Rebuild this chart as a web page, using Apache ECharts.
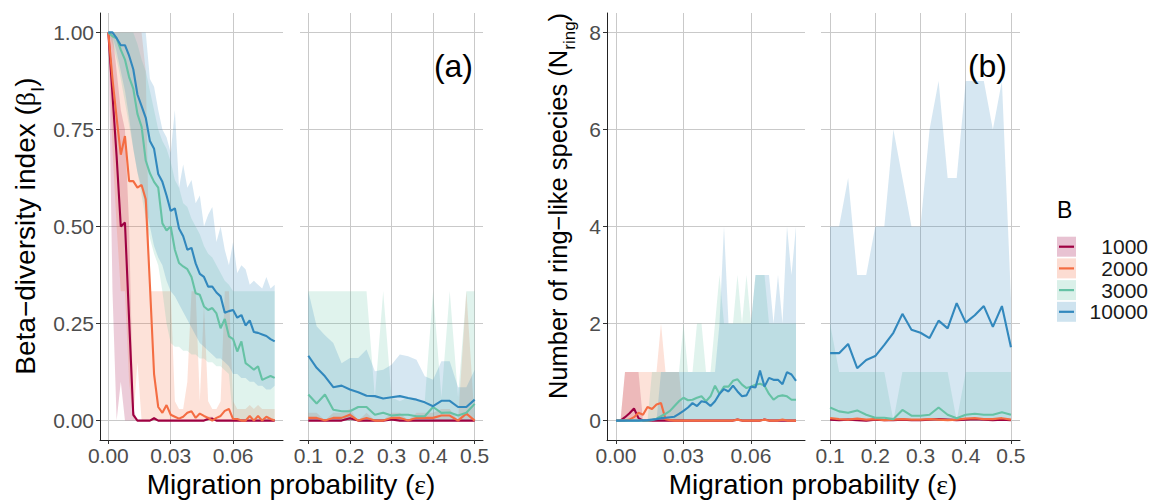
<!DOCTYPE html>
<html><head><meta charset="utf-8">
<script src="https://cdn.jsdelivr.net/npm/echarts@6/dist/echarts.min.js"></script>
<style>html,body{margin:0;padding:0;background:#fff}#c{width:1161px;height:503px}</style>
</head><body><div id="c"></div>
<script>
// ---------- categories / ticks ----------
const groups = ['1000', '2000', '3000', '10000'];
const colors = ['#9E0142', '#F46D43', '#66C2A5', '#3288BD'];
const epsLow = [0,0.002,0.004,0.006,0.008,0.01,0.012,0.014,0.016,0.018,0.02,0.022,0.024,0.026,0.028,0.03,0.032,0.034,0.036,0.038,0.04,0.042,0.044,0.046,0.048,0.05,0.052,0.054,0.056,0.058,0.06,0.062,0.064,0.066,0.068,0.07,0.072,0.074,0.076,0.078,0.08];
const epsHigh = [0.1,0.12,0.14,0.16,0.18,0.2,0.22,0.24,0.26,0.28,0.3,0.32,0.34,0.36,0.38,0.4,0.42,0.44,0.46,0.48,0.5];
const tickEpsLow = [0, 0.03, 0.06];
const tickEpsHigh = [0.1, 0.2, 0.3, 0.4, 0.5];
const tickBeta = [0, 0.25, 0.5, 0.75, 1];
const tickRing = [0, 2, 4, 6, 8];

// ---------- (a) beta diversity, low epsilon ----------
const betaL_1000 = [1.00,0.84,0.68,0.50,0.51,0.26,0.015,0,0,0, 0,0.006,0,0,0,0,0,0,0,0, 0,0,0,0,0.004,0.005,0,0,0,0, 0,0,0,0,0,0,0,0,0,0, 0];
const betaL_2000 = [1.00,0.88,0.78,0.685,0.733,0.617,0.617,0.60,0.607,0.57, 0.35,0.12,0.035,0.02,0.04,0.015,0.01,0.005,0.01,0.02, 0.024,0.007,0.018,0.012,0.007,0,0.007,0.012,0.025,0.03, 0.004,0.004,0,0,0.012,0,0.012,0,0.01,0.004, 0];
const betaL_3000 = [1.00,0.99,0.985,0.955,0.93,0.885,0.855,0.79,0.757,0.67, 0.637,0.615,0.60,0.508,0.49,0.50,0.44,0.406,0.397,0.39, 0.37,0.328,0.324,0.294,0.285,0.29,0.276,0.238,0.262,0.217, 0.21,0.178,0.204,0.148,0.14,0.131,0.14,0.105,0.11,0.115, 0.11];
const betaL_10000 = [1.00,1.00,0.985,0.967,0.967,0.94,0.905,0.84,0.81,0.78, 0.72,0.70,0.635,0.615,0.58,0.54,0.547,0.495,0.475,0.44, 0.445,0.405,0.378,0.37,0.345,0.345,0.33,0.32,0.278,0.282, 0.285,0.265,0.272,0.245,0.258,0.228,0.226,0.222,0.218,0.21, 0.204];
const betaL_1000_lo = [1.00,0.333,0,0.1,0,0,0,0,0,0, 0,0,0,0,0,0,0,0,0,0, 0,0,0,0,0,0,0,0,0,0, 0,0,0,0,0,0,0,0,0,0, 0];
const betaL_1000_hi = [1.00,1.00,0.9,0.8,0.75,0.5,0.03,0,0,0, 0,0.01,0,0,0,0,0,0,0,0, 0,0,0,0,0.01,0.01,0,0,0,0, 0,0,0,0,0,0,0,0,0,0, 0];
const betaL_2000_lo = [1.00,0.7,0.5,0.333,0.333,0.1,0,0.15,0,0, 0,0,0,0,0,0,0,0,0,0, 0,0,0,0,0,0,0,0,0,0, 0,0,0,0,0,0,0,0,0,0, 0];
const betaL_2000_hi = [1,1,1,1,1,1,1,1,1,0.9, 0.333,0.333,0.333,0.333,0.333,0.333,0.05,0.03,0.03,0.1, 0.333,0.333,0.05,0.3,0.05,0.03,0.03,0.05,0.333,0.333, 0.05,0.03,0.03,0.03,0.04,0.03,0.04,0.03,0.03,0.03, 0.03];
const betaL_3000_lo = [1.00,0.97,0.93,0.88,0.82,0.76,0.70,0.64,0.58,0.52, 0.47,0.43,0.40,0.333,0.25,0.2,0.19,0.19,0.18,0.18, 0.17,0.17,0.16,0.16,0.15,0.15,0.14,0.14,0.13,0.12, 0,0,0,0,0,0,0,0,0,0, 0];
const betaL_3000_hi = [1,1,1,1,1,1,1,0.97,0.93,0.9, 0.85,0.8,0.75,0.72,0.7,0.667,0.62,0.6,0.56,0.55, 0.52,0.5,0.48,0.45,0.43,0.42,0.4,0.38,0.36,0.35, 0.333,0.333,0.333,0.333,0.333,0.333,0.333,0.333,0.333,0.333, 0.333];
const betaL_10000_lo = [1.00,0.99,0.95,0.9,0.85,0.78,0.70,0.64,0.6,0.55, 0.5,0.45,0.42,0.4,0.36,0.333,0.32,0.3,0.28,0.26, 0.24,0.22,0.2,0.19,0.18,0.17,0.16,0.16,0.15,0.14, 0.12,0.12,0.11,0.11,0.1,0.1,0.09,0.09,0.08,0.08, 0.09];
const betaL_10000_hi = [1,1,1,1,1,1,1,1,1,1, 0.88,0.86,0.80,0.75,0.73,0.69,0.80,0.60,0.66,0.60, 0.62,0.56,0.58,0.50,0.53,0.55,0.46,0.50,0.44,0.40, 0.46,0.38,0.40,0.39,0.35,0.36,0.35,0.34,0.37,0.34, 0.35];

// ---------- (a) beta diversity, high epsilon ----------
const betaH_1000 = [0,0,0,0,0,0.006,0,0,0,0, 0.003,0,0,0,0,0,0,0,0,0, 0];
const betaH_2000 = [0.007,0.007,0,0.007,0.007,0.015,0,0.007,0,0, 0.007,0.007,0,0.007,0.007,0.007,0.013,0.013,0,0.018, 0];
const betaH_3000 = [0.067,0.044,0.067,0.028,0.024,0.024,0.035,0.035,0.015,0.02, 0.013,0.015,0.015,0.011,0.011,0.035,0.02,0.021,0.013,0.02, 0.043];
const betaH_10000 = [0.167,0.136,0.114,0.086,0.09,0.08,0.073,0.064,0.063,0.057, 0.06,0.063,0.058,0.054,0.047,0.037,0.051,0.051,0.035,0.035, 0.054];
const betaH_1000_lo = [0,0,0,0,0,0,0,0,0,0, 0,0,0,0,0,0,0,0,0,0, 0];
const betaH_1000_hi = [0,0,0,0,0,0.02,0,0,0,0, 0.01,0,0,0,0,0,0,0,0,0, 0];
const betaH_2000_lo = [0,0,0,0,0,0,0,0,0,0, 0,0,0,0,0,0,0,0,0,0, 0];
const betaH_2000_hi = [0.02,0.02,0,0.02,0.02,0.03,0,0.02,0,0, 0.02,0.02,0,0.02,0.02,0.02,0.03,0.03,0,0.333, 0];
const betaH_3000_lo = [0,0,0,0,0,0,0,0,0,0, 0,0,0,0,0,0,0,0,0,0, 0];
const betaH_3000_hi = [0.333,0.333,0.333,0.333,0.333,0.333,0.333,0.333,0.06,0.333, 0.06,0.05,0.06,0.05,0.05,0.333,0.06,0.333,0.06,0.333, 0.333];
const betaH_10000_lo = [0,0,0,0,0,0,0,0,0,0, 0,0,0,0,0,0,0,0,0,0, 0];
const betaH_10000_hi = [0.333,0.243,0.22,0.2,0.148,0.161,0.161,0.183,0.127,0.131, 0.144,0.17,0.166,0.157,0.114,0.105,0.153,0.153,0.086,0.086, 0.131];

// ---------- (b) ring-like species, low epsilon ----------
const ringL_1000 = [0,0,0.07,0.15,0.25,0.05,0,0,0,0, 0,0,0,0,0,0,0,0,0,0, 0,0,0,0,0,0,0,0.02,0,0, 0,0,0,0.02,0,0,0,0,0,0, 0];
const ringL_2000 = [0,0,0,0.02,0.07,0.16,0.12,0.28,0.24,0.33, 0.36,0.03,0.01,0,0,0,0,0,0,0, 0,0,0,0,0,0,0,0.02,0,0, 0,0,0,0.02,0,0,0,0.02,0,0, 0];
const ringL_3000 = [0,0,0,0,0,0,0,0,0.01,0.04, 0.09,0.14,0.2,0.3,0.4,0.47,0.42,0.43,0.47,0.5, 0.4,0.5,0.72,0.55,0.7,0.7,0.82,0.85,0.74,0.67, 0.7,0.74,0.76,0.72,0.55,0.43,0.5,0.52,0.5,0.43, 0.43];
const ringL_10000 = [0,0,0,0,0,0,0.005,0.01,0.02,0.03, 0.05,0.06,0.07,0.08,0.14,0.2,0.27,0.36,0.3,0.4, 0.38,0.3,0.4,0.55,0.65,0.6,0.72,0.6,0.5,0.52, 0.7,0.68,1.03,0.7,0.88,0.84,0.84,0.75,1.0,0.95, 0.82];
const ringL_1000_lo = [0,0,0,0,0,0,0,0,0,0, 0,0,0,0,0,0,0,0,0,0, 0,0,0,0,0,0,0,0,0,0, 0,0,0,0,0,0,0,0,0,0, 0];
const ringL_1000_hi = [0,0,1,1,1,1,0,0,0,0, 0,0,0,0,0,0,0,0,0,0, 0,0,0,0,0,0,0,0,0,0, 0,0,0,0,0,0,0,0,0,0, 0];
const ringL_2000_lo = [0,0,0,0,0,0,0,0,0,0, 0,0,0,0,0,0,0,0,0,0, 0,0,0,0,0,0,0,0,0,0, 0,0,0,0,0,0,0,0,0,0, 0];
const ringL_2000_hi = [0,0,1,1,1,1,1,1,1,1, 2,1,1,1,1,0,0,0,0,0, 0,0,0,0,0,0,0,0,0,0, 0,0,0,0,0,0,0,0,0,0, 0];
const ringL_3000_lo = [0,0,0,0,0,0,0,0,0,0, 0,0,0,0,0,0,0,0,0,0, 0,0,0,0,0,0,0,0,0,0, 0,0,0,0,0,0,0,0,0,0, 0];
const ringL_3000_hi = [0,0,0,0,0,0,0,0,1,1, 1,1,1,1,1,2,1,1,2,2, 1,1,2,3,2,2,2,3,2,3, 2,3,3,3,2,2,2,2,2,2, 2];
const ringL_10000_lo = [0,0,0,0,0,0,0,0,0,0, 0,0,0,0,0,0,0,0,0,0, 0,0,0,0,0,0,0,0,0,0, 0,0,0,0,0,0,0,0,0,0, 0];
const ringL_10000_hi = [0,0,0,0,0,0,0,0,0,0, 1,1,1,1,1,1,1,1,1,1, 1,1,1,2,4,2,2,2,2,2, 2,3,3,3,3,2,3,2,4,3, 4];

// ---------- (b) ring-like species, high epsilon ----------
const ringH_1000 = [0.02,0.01,0.02,0.01,0,0.02,0.01,0.01,0.02,0.01, 0.01,0.02,0.03,0.02,0.01,0.02,0.03,0.02,0.01,0.02, 0.01];
const ringH_2000 = [0.05,0.03,0.02,0.04,0.02,0.03,0.01,0.02,0.03,0.02, 0.02,0.03,0.02,0.01,0.02,0.04,0.05,0.03,0.03,0.05, 0.02];
const ringH_3000 = [0.27,0.19,0.16,0.21,0.12,0.06,0.06,0.03,0.22,0.10, 0.10,0.12,0.27,0.12,0.05,0.12,0.14,0.12,0.12,0.17, 0.12];
const ringH_10000 = [1.39,1.39,1.58,1.08,1.25,1.33,1.56,1.81,2.20,1.87, 1.81,1.70,2.06,1.90,2.42,2.02,2.17,2.36,1.93,2.36, 1.51];
const ringH_1000_lo = [0,0,0,0,0,0,0,0,0,0, 0,0,0,0,0,0,0,0,0,0, 0];
const ringH_1000_hi = [0,0,0,0,0,0,0,0,0,0, 0,0,0,0,0,0,0,0,0,0, 0];
const ringH_2000_lo = [0,0,0,0,0,0,0,0,0,0, 0,0,0,0,0,0,0,0,0,0, 0];
const ringH_2000_hi = [0,0,0,0,0,0,0,0,0,0, 0,0,0,0,0,0,0,0,0,0, 0];
const ringH_3000_lo = [0,0,0,0,0,0,0,0,0,0, 0,0,0,0,0,0,0,0,0,0, 0];
const ringH_3000_hi = [2,1,1,1,1,1,1,0,1,1, 1,1,1,1,0,1,1,1,1,1, 1];
const ringH_10000_lo = [0,0,0,0,0,0,0,0,0,0, 0,0,0,0,0,0,0,0,0,0, 0];
const ringH_10000_hi = [4,4,5,3,3,4,4,6,5,4, 4,6,7,5,5,7,7,7,6,7, 2.5];

// ---------- build ----------
const FONT = 'Liberation Sans';
const RIB_ALPHA = 0.2;
function rgba(hex, a) {
  const n = parseInt(hex.slice(1), 16);
  return 'rgba(' + ((n >> 16) & 255) + ',' + ((n >> 8) & 255) + ',' + (n & 255) + ',' + a + ')';
}
function ribbonSeries(p, xs, lo, hi, color) {
  return {type: 'custom', xAxisIndex: p, yAxisIndex: p, silent: true, z: 1, clip: true,
    data: xs.map((x, i) => [x, lo[i], hi[i]]),
    encode: {x: 0, y: [1, 2]},
    renderItem: function (params, api) {
      if (params.dataIndex !== 0) return null;
      const pts = [];
      for (let i = 0; i < xs.length; i++) pts.push(api.coord([xs[i], hi[i]]));
      for (let i = xs.length - 1; i >= 0; i--) pts.push(api.coord([xs[i], lo[i]]));
      return {type: 'polygon', shape: {points: pts}, style: {fill: rgba(color, RIB_ALPHA), stroke: null}};
    }};
}
function panelSeries(p, xs, means, los, his) {
  const out = [];
  groups.forEach((g, k) => { out.push(ribbonSeries(p, xs, los[k], his[k], colors[k])); });
  groups.forEach((g, k) => {
    out.push({type: 'line', name: g, xAxisIndex: p, yAxisIndex: p, symbol: 'none', silent: true, z: 2,
      lineStyle: {color: colors[k], width: 2.1}, itemStyle: {color: colors[k]},
      data: xs.map((x, i) => [x, means[k][i]])});
  });
  return out;
}
function xAxisCfg(gi, min, max, ticks, dec) {
  return {type: 'value', gridIndex: gi, min: min, max: max,
    axisLine: {show: true, onZero: false, lineStyle: {color: '#222', width: 1}},
    axisTick: {show: true, length: 4, customValues: ticks, lineStyle: {color: '#333', width: 1}},
    axisLabel: {show: true, customValues: ticks, formatter: v => Number(v).toFixed(dec), fontSize: 21, color: '#4d4d4d', margin: 5, fontFamily: FONT},
    splitLine: {show: true, lineStyle: {color: '#c9c9c9', width: 1}}};
}
function yAxisCfg(gi, min, max, ticks, dec, visible) {
  return {type: 'value', gridIndex: gi, min: min, max: max,
    axisLine: {show: visible, onZero: false, lineStyle: {color: '#222', width: 1}},
    axisTick: {show: visible, length: 4, customValues: ticks, lineStyle: {color: '#333', width: 1}},
    axisLabel: {show: visible, customValues: ticks, formatter: v => Number(v).toFixed(dec), fontSize: 21, color: '#4d4d4d', margin: 6, fontFamily: FONT},
    splitLine: {show: true, lineStyle: {color: '#c9c9c9', width: 1}}};
}

const series = [].concat(
  panelSeries(0, epsLow, [betaL_1000, betaL_2000, betaL_3000, betaL_10000],
    [betaL_1000_lo, betaL_2000_lo, betaL_3000_lo, betaL_10000_lo], [betaL_1000_hi, betaL_2000_hi, betaL_3000_hi, betaL_10000_hi]),
  panelSeries(1, epsHigh, [betaH_1000, betaH_2000, betaH_3000, betaH_10000],
    [betaH_1000_lo, betaH_2000_lo, betaH_3000_lo, betaH_10000_lo], [betaH_1000_hi, betaH_2000_hi, betaH_3000_hi, betaH_10000_hi]),
  panelSeries(2, epsLow, [ringL_1000, ringL_2000, ringL_3000, ringL_10000],
    [ringL_1000_lo, ringL_2000_lo, ringL_3000_lo, ringL_10000_lo], [ringL_1000_hi, ringL_2000_hi, ringL_3000_hi, ringL_10000_hi]),
  panelSeries(3, epsHigh, [ringH_1000, ringH_2000, ringH_3000, ringH_10000],
    [ringH_1000_lo, ringH_2000_lo, ringH_3000_lo, ringH_10000_lo], [ringH_1000_hi, ringH_2000_hi, ringH_3000_hi, ringH_10000_hi])
);

function richFor(fs, sub, lh) {
  return {
    t: {fontSize: fs, fontFamily: FONT, fill: '#000', lineHeight: lh, verticalAlign: 'top'},
    g: {fontSize: fs, fontFamily: 'Liberation Serif', fill: '#000', lineHeight: lh, verticalAlign: 'top'},
    s: {fontSize: sub, fontFamily: FONT, fill: '#000', lineHeight: sub, verticalAlign: 'bottom'}
  };
}
function bigText(x, y, text, rich, rot) {
  return {type: 'text', x: x, y: y, rotation: rot || 0, silent: true,
    style: {text: text, rich: rich, align: 'center', verticalAlign: 'middle', textAlign: 'center', textVerticalAlign: 'middle'}};
}
const graphics = [
  bigText(29, 226, '{t|Beta\u2212diversity index (}{g|\u03B2}{s|I}{t|)}', richFor(28, 19, 36), Math.PI / 2),
  bigText(561, 206, '{t|Number of ring\u2212like species (N}{s|ring}{t|)}', richFor(25.5, 17, 33), Math.PI / 2),
  bigText(291, 484, '{t|Migration probability (}{g|\u03B5}{t|)}', richFor(28, 19, 28)),
  bigText(813, 484, '{t|Migration probability (}{g|\u03B5}{t|)}', richFor(28, 19, 28)),
  {type: 'text', x: 473, y: 66, silent: true, style: {text: '(a)', font: '32px "Liberation Sans"', fill: '#000', align: 'right', verticalAlign: 'middle', textAlign: 'right', textVerticalAlign: 'middle'}},
  {type: 'text', x: 1007, y: 66, silent: true, style: {text: '(b)', font: '32px "Liberation Sans"', fill: '#000', align: 'right', verticalAlign: 'middle', textAlign: 'right', textVerticalAlign: 'middle'}},
  {type: 'text', x: 1057, y: 210, silent: true, style: {text: 'B', font: '23px "Liberation Sans"', fill: '#000', align: 'left', verticalAlign: 'middle', textAlign: 'left', textVerticalAlign: 'middle'}}
];
groups.forEach((g, k) => {
  const cy = 246.7 + k * 21.7;
  graphics.push({type: 'rect', silent: true, shape: {x: 1057, y: cy - 10, width: 19, height: 20}, style: {fill: rgba(colors[k], 0.24)}});
  graphics.push({type: 'line', silent: true, shape: {x1: 1059, y1: cy, x2: 1074, y2: cy}, style: {stroke: colors[k], lineWidth: 2.2}});
  graphics.push({type: 'text', x: 1148, y: cy, silent: true, style: {text: g, font: '21px "Liberation Sans"', fill: '#1a1a1a', align: 'right', verticalAlign: 'middle', textAlign: 'right', textVerticalAlign: 'middle'}});
});

const chart = echarts.init(document.getElementById('c'), null, {renderer: 'svg', width: 1161, height: 503});
chart.setOption({
  animation: false,
  backgroundColor: '#ffffff',
  textStyle: {fontFamily: FONT},
  grid: [
    {left: 100, top: 13, width: 183, height: 427, containLabel: false, outerBoundsMode: 'none'},
    {left: 300, top: 13, width: 183, height: 427, containLabel: false, outerBoundsMode: 'none'},
    {left: 607, top: 13, width: 198, height: 427, containLabel: false, outerBoundsMode: 'none'},
    {left: 821, top: 13, width: 199, height: 427, containLabel: false, outerBoundsMode: 'none'}
  ],
  xAxis: [
    xAxisCfg(0, -0.004, 0.084, tickEpsLow, 2),
    xAxisCfg(1, 0.08, 0.52, tickEpsHigh, 1),
    xAxisCfg(2, -0.004, 0.084, tickEpsLow, 2),
    xAxisCfg(3, 0.08, 0.52, tickEpsHigh, 1)
  ],
  yAxis: [
    yAxisCfg(0, -0.05, 1.05, tickBeta, 2, true),
    yAxisCfg(1, -0.05, 1.05, tickBeta, 2, false),
    yAxisCfg(2, -0.4, 8.4, tickRing, 0, true),
    yAxisCfg(3, -0.4, 8.4, tickRing, 0, false)
  ],
  graphic: graphics,
  series: series
});
</script>
</body></html>
